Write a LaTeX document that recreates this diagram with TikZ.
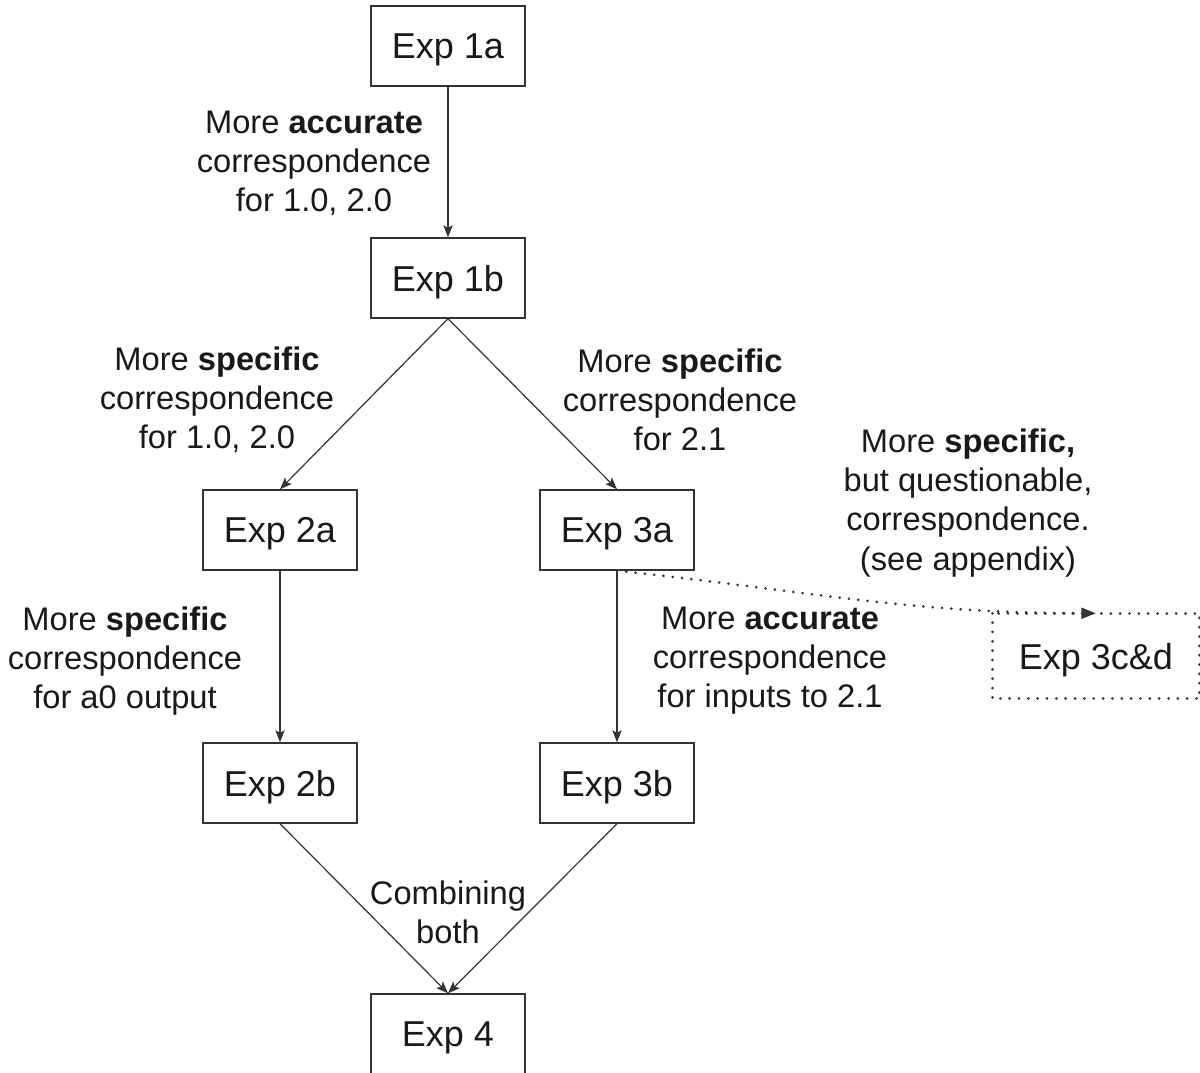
\documentclass[tikz,border=0pt]{standalone}
\usepackage{fontspec}
\setmainfont{Liberation Sans}
\usetikzlibrary{arrows.meta}
\begin{document}
\begin{tikzpicture}[x=0.75pt,y=-0.75pt,
  expbox/.style={draw=black!80, line width=1.1pt, minimum width=115.5pt,
    minimum height=60pt, inner sep=0pt, text depth=0pt,
    font=\fontsize{27}{32}\selectfont, text=black!90},
  note/.style={align=center, font=\fontsize{24.5}{29.3}\selectfont, text=black!90, inner sep=0pt},
  link/.style={draw=black!80, line width=0.9pt, -{Stealth[length=9pt,width=7pt,inset=2pt]}},
  dotted line/.style={draw=black!80, line width=2.2pt, line cap=round,
    dash pattern=on 0.01pt off 7pt},
  dotlink/.style={dotted line, -{Triangle[length=11pt,width=8pt]}},
]
\useasboundingbox (0,0) rectangle (1200,1073);

% experiment boxes
\node[expbox] (e1a) at (448,46)  {Exp 1a};
\node[expbox] (e1b) at (448,278) {Exp 1b};
\node[expbox] (e2a) at (280,530) {Exp 2a};
\node[expbox] (e3a) at (617,530) {Exp 3a};
\node[expbox] (e2b) at (280,783) {Exp 2b};
\node[expbox] (e3b) at (617,783) {Exp 3b};
\node[expbox] (e4)  at (448,1034) {Exp 4};
\node[expbox, draw=none, minimum width=154.5pt, minimum height=63pt] (e3cd) at (1096,656) {Exp 3c\&d};
\draw[dotted line] (e3cd.north west) rectangle (e3cd.south east);

% edge labels
\node[note] (l1) at (314,163) {More \textbf{accurate}\\correspondence\\for 1.0, 2.0};
\node[note] (l2) at (217,400) {More \textbf{specific}\\correspondence\\for 1.0, 2.0};
\node[note] (l3) at (680,400) {More \textbf{specific}\\correspondence\\for 2.1};
\node[note] (l4) at (968,503) {More \textbf{specific,}\\but questionable,\\correspondence.\\(see appendix)};
\node[note] (l5) at (125,661) {More \textbf{specific}\\correspondence\\for a0 output};
\node[note] (l6) at (770,661) {More \textbf{accurate}\\correspondence\\for inputs to 2.1};
\node[note] (l7) at (448,912) {Combining\\both};

% connectors
\draw[link] (e1a.south) -- (e1b.north);
\draw[link] (e1b.south) -- (e2a.north);
\draw[link] (e1b.south) -- (e3a.north);
\draw[link] (e2a.south) -- (e2b.north);
\draw[link] (e3a.south) -- (e3b.north);
\draw[link] (e2b.south) -- (e4.north);
\draw[link] (e3b.south) -- (e4.north);
\draw[dotlink] (e3a.south) to[out=-6, in=180] (e3cd.north);
\end{tikzpicture}
\end{document}
